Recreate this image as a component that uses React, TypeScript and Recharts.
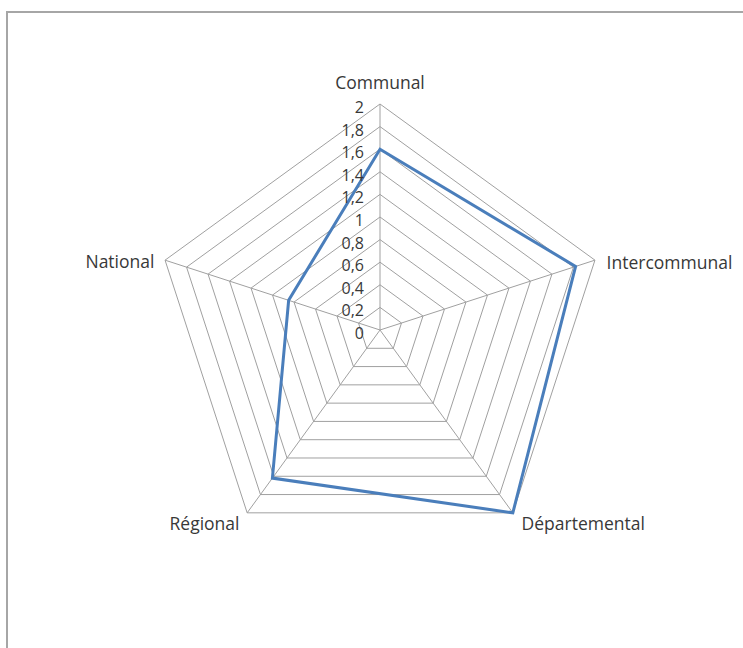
import { PolarAngleAxis, PolarGrid, PolarRadiusAxis, Radar, RadarChart } from "recharts";

const categories = ["Communal", "Intercommunal", "Départemental", "Régional", "National"];
const values = [1.6, 1.82, 2, 1.62, 0.85];
const radiusTicks = [0, 0.2, 0.4, 0.6, 0.8, 1, 1.2, 1.4, 1.6, 1.8, 2];

const data = categories.map((name, i) => ({ name, value: values[i] }));

// label offsets relative to the tick point, per category
const labelPos: Record<string, { dx: number; dy: number; anchor: "start" | "middle" | "end" }> = {
    Communal: { dx: 0, dy: -14, anchor: "middle" },
    Intercommunal: { dx: 4, dy: 4, anchor: "start" },
    Départemental: { dx: 4, dy: 4, anchor: "start" },
    Régional: { dx: -3, dy: 4, anchor: "end" },
    National: { dx: -3, dy: 3, anchor: "end" },
};

const AngleTick = (props: any) => {
    const { x, y, payload } = props;
    const p = labelPos[payload.value] || { dx: 0, dy: 0, anchor: "middle" };
    return (
        <text
            x={x + p.dx}
            y={y + p.dy}
            textAnchor={p.anchor}
            dominantBaseline="central"
            fontFamily="Open Sans"
            fontSize={17.5}
            fill="#383838"
        >
            {payload.value}
        </text>
    );
};

const RadiusTick = (props: any) => {
    const { x, y, payload } = props;
    return (
        <text
            x={x - 16}
            y={y + 3}
            textAnchor="end"
            dominantBaseline="central"
            fontFamily="Open Sans"
            fontSize={16}
            fill="#383838"
        >
            {String(payload.value).replace(".", ",")}
        </text>
    );
};

const App = () => {
    return (
        <div style={{ position: "absolute", left: 0, top: 0, width: 743, height: 648, overflow: "hidden", background: "#fff" }}>
            <div
                style={{
                    position: "absolute",
                    left: 6,
                    top: 11,
                    width: 800,
                    height: 700,
                    border: "2px solid #a6a6a6",
                    boxSizing: "border-box",
                }}
            />
            <div style={{ position: "absolute", left: 0, top: 0 }}>
                <RadarChart
                    width={743}
                    height={648}
                    data={data}
                    cx={380}
                    cy={330}
                    outerRadius={226}
                    margin={{ top: 0, right: 0, bottom: 0, left: 0 }}
                >
                    <PolarGrid gridType="polygon" stroke="#a0a0a0" strokeWidth={1} />
                    <PolarAngleAxis dataKey="name" tick={<AngleTick />} tickLine={false} axisLine={false} />
                    <PolarRadiusAxis
                        angle={90}
                        domain={[0, 2]}
                        ticks={radiusTicks}
                        tick={<RadiusTick />}
                        axisLine={false}
                        tickLine={false}
                    />
                    <Radar
                        dataKey="value"
                        stroke="#4a7ebb"
                        strokeWidth={3}
                        fill="none"
                        fillOpacity={0}
                        dot={false}
                        isAnimationActive={false}
                    />
                </RadarChart>
            </div>
        </div>
    );
};

export default App;
